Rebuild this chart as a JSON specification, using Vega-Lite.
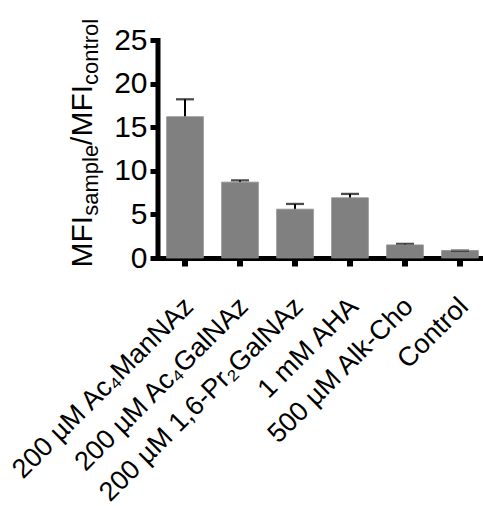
{
  "$schema": "https://vega.github.io/schema/vega-lite/v6.json",
  "autosize": {"type": "none"},
  "padding": {"left": 157.5, "top": 40, "right": 0, "bottom": 248},
  "width": 330,
  "height": 218,
  "config": {
    "view": {"stroke": null},
    "font": "Liberation Sans",
    "axis": {"zindex": 1, "grid": false}
  },
  "data": {
    "values": [
      {"group": "200 µM Ac₄ManNAz", "mean": 16.2, "upper": 18.2},
      {"group": "200 µM Ac₄GalNAz", "mean": 8.7, "upper": 8.9},
      {"group": "200 µM 1,6-Pr₂GalNAz", "mean": 5.6, "upper": 6.2},
      {"group": "1 mM AHA", "mean": 6.9, "upper": 7.35},
      {"group": "500 µM Alk-Cho", "mean": 1.5, "upper": 1.62},
      {"group": "Control", "mean": 0.85, "upper": 0.85}
    ]
  },
  "encoding": {
    "x": {
      "field": "group",
      "type": "nominal",
      "sort": null,
      "scale": {"paddingInner": 0.333, "paddingOuter": 0.167},
      "axis": {
        "title": null,
        "domainColor": "black",
        "domainWidth": 5,
        "domainCap": "square",
        "tickColor": "black",
        "tickWidth": 6,
        "tickSize": 8,
        "labelAngle": -45,
        "labelAlign": "right",
        "labelBaseline": "middle",
        "labelFontSize": 27,
        "labelColor": "black",
        "labelPadding": 36,
        "labelOffset": 4,
        "labelLimit": 0
      }
    }
  },
  "resolve": {"axis": {"y": "independent"}},
  "layer": [
    {
      "mark": {"type": "bar", "color": "#808080"},
      "encoding": {
        "y": {
          "field": "mean",
          "type": "quantitative",
          "scale": {"domain": [0, 25], "nice": false},
          "axis": {
            "orient": "left",
            "values": [0, 5, 10, 15, 20, 25],
            "domainColor": "black",
            "domainWidth": 5,
            "domainCap": "square",
            "tickColor": "black",
            "tickWidth": 5,
            "tickSize": 7.5,
            "labelFontSize": 30,
            "labelColor": "black",
            "labelPadding": 3,
            "title": "MFI",
            "titleFontSize": 30,
            "titleFontWeight": "normal",
            "titleColor": "black",
            "titleAngle": -90,
            "titleAlign": "left",
            "titleBaseline": "alphabetic",
            "titleX": -66.5,
            "titleY": 227
          }
        }
      }
    },
    {
      "mark": {"type": "rule", "color": "black", "strokeWidth": 2},
      "encoding": {
        "y": {
          "field": "mean",
          "type": "quantitative",
          "scale": {"domain": [0, 25], "nice": false},
          "axis": {
            "orient": "left",
            "domain": false,
            "ticks": false,
            "labels": false,
            "title": "sample",
            "titleFontSize": 22,
            "titleFontWeight": "normal",
            "titleColor": "black",
            "titleAngle": -90,
            "titleAlign": "left",
            "titleBaseline": "alphabetic",
            "titleX": -60.5,
            "titleY": 175.3
          }
        },
        "y2": {"field": "upper"}
      }
    },
    {
      "mark": {"type": "tick", "color": "black", "thickness": 2.3, "size": 18},
      "encoding": {
        "y": {
          "field": "upper",
          "type": "quantitative",
          "scale": {"domain": [0, 25], "nice": false},
          "axis": {
            "orient": "left",
            "domain": false,
            "ticks": false,
            "labels": false,
            "title": "/MFI",
            "titleFontSize": 30,
            "titleFontWeight": "normal",
            "titleColor": "black",
            "titleAngle": -90,
            "titleAlign": "left",
            "titleBaseline": "alphabetic",
            "titleX": -66.5,
            "titleY": 104.4
          }
        }
      }
    },
    {
      "mark": {"type": "bar", "fillOpacity": 0, "stroke": "#8c8c8c", "strokeWidth": 0.8},
      "encoding": {
        "y": {
          "field": "mean",
          "type": "quantitative",
          "scale": {"domain": [0, 25], "nice": false},
          "axis": {
            "orient": "left",
            "domain": false,
            "ticks": false,
            "labels": false,
            "title": "control",
            "titleFontSize": 22,
            "titleFontWeight": "normal",
            "titleColor": "black",
            "titleAngle": -90,
            "titleAlign": "left",
            "titleBaseline": "alphabetic",
            "titleX": -60.5,
            "titleY": 44.4
          }
        }
      }
    }
  ]
}
